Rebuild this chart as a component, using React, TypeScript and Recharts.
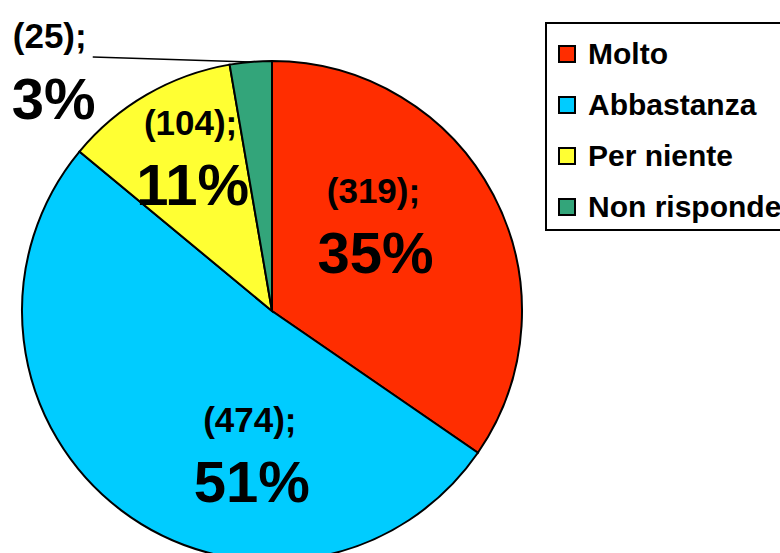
import React from 'react';
import { PieChart, Pie, Cell, Legend } from 'recharts';

const categories = ['Molto', 'Abbastanza', 'Per niente', 'Non risponde'];
const counts = [319, 474, 104, 25];
const colors = ['#FF2D00', '#00CCFF', '#FFFF33', '#33A57A'];

// where each label sits: fraction of the radius and a small turn (deg) away from the slice middle
const labelSpots = [
  { r: 0.5, turn: 8 },
  { r: 0.63, turn: 29 },
  { r: 0.65, turn: 0 },
  { r: 1, turn: 0, outside: true },
];

const data = categories.map((name, i) => ({ name, value: counts[i] }));

const FONT = '"Liberation Sans", Arial, sans-serif';
const RAD = Math.PI / 180;

const renderLabel = (props: any) => {
  const { cx, cy, midAngle, outerRadius, percent, value, index } = props;
  const spot = labelSpots[index];
  const pct = `${Math.round(percent * 100)}%`;

  if (spot.outside) {
    const sx = cx + outerRadius * Math.cos(-midAngle * RAD);
    const sy = cy + outerRadius * Math.sin(-midAngle * RAD);
    const ex = sx - 158;
    const ey = sy - 5;
    const lx = ex - 43;
    const ly = ey + 26;
    return (
      <g>
        <line x1={sx} y1={sy} x2={ex} y2={ey} stroke="#000" strokeWidth={1.5} />
        <text x={lx} y={ly - 35} textAnchor="middle" fontFamily={FONT} fontWeight="bold" fontSize={35} fill="#000">
          {`(${value});`}
        </text>
        <text x={lx + 4} y={ly + 36} textAnchor="middle" fontFamily={FONT} fontWeight="bold" fontSize={58} fill="#000">
          {pct}
        </text>
      </g>
    );
  }

  const ang = (midAngle + spot.turn) * RAD;
  const x = cx + outerRadius * spot.r * Math.cos(-ang);
  const y = cy + outerRadius * spot.r * Math.sin(-ang);
  return (
    <g>
      <text x={x} y={y - 35} textAnchor="middle" fontFamily={FONT} fontWeight="bold" fontSize={35} fill="#000">
        {`(${value});`}
      </text>
      <text x={x + 2} y={y + 35} textAnchor="middle" fontFamily={FONT} fontWeight="bold" fontSize={58} fill="#000">
        {pct}
      </text>
    </g>
  );
};

const LegendBox = () => (
  <div
    style={{
      border: '2px solid #000',
      width: 250,
      height: 209,
      boxSizing: 'border-box',
      background: '#fff',
      paddingTop: 4,
      paddingLeft: 11,
      overflow: 'hidden',
    }}
  >
    {categories.map((name, i) => (
      <div key={name} style={{ display: 'flex', alignItems: 'center', height: 51 }}>
        <span
          style={{
            display: 'inline-block',
            width: 14,
            height: 14,
            background: colors[i],
            border: '2px solid #000',
            marginRight: 12,
          }}
        />
        <span style={{ fontFamily: FONT, fontWeight: 'bold', fontSize: 30, color: '#000', whiteSpace: 'nowrap' }}>
          {name}
        </span>
      </div>
    ))}
  </div>
);

export default function App() {
  return (
    <div style={{ position: 'absolute', left: 0, top: 0, width: 780, height: 553, overflow: 'hidden', background: '#fff' }}>
      <PieChart width={780} height={553} margin={{ top: 0, right: 0, bottom: 0, left: 0 }}>
        <Pie
          data={data}
          dataKey="value"
          nameKey="name"
          cx={272}
          cy={311}
          outerRadius={250}
          startAngle={90}
          endAngle={-270}
          stroke="#000"
          strokeWidth={2}
          label={renderLabel}
          labelLine={false}
          isAnimationActive={false}
        >
          {data.map((d, i) => (
            <Cell key={d.name} fill={colors[i]} />
          ))}
        </Pie>
        <Legend
          layout="vertical"
          verticalAlign="top"
          align="right"
          content={<LegendBox />}
          wrapperStyle={{ left: 545, top: 22, right: 'auto', width: 250 }}
        />
      </PieChart>
    </div>
  );
}
